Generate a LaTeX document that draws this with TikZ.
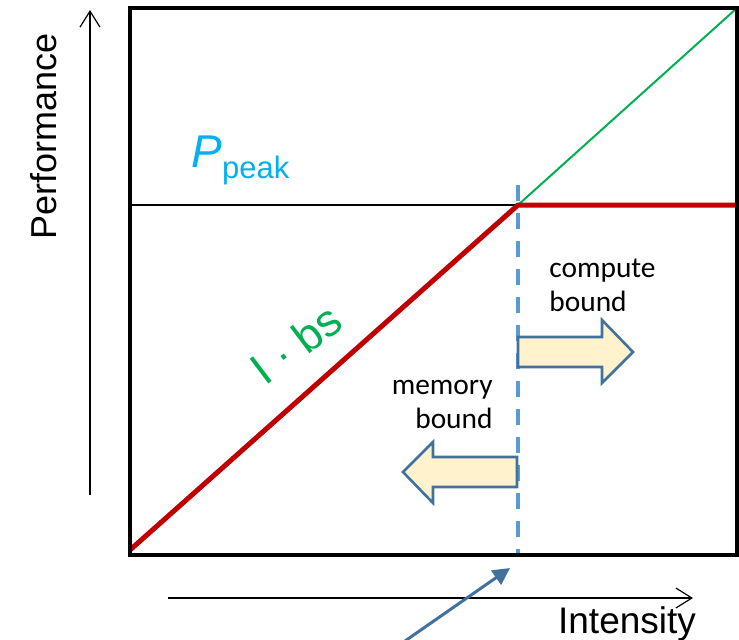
\documentclass[tikz,border=0pt]{standalone}
\usepackage{fontspec}
\setmainfont{Liberation Sans}
\newfontfamily\calibri{Carlito}
\usepackage{tikz}
\usetikzlibrary{arrows.meta}

\definecolor{roofred}{HTML}{C00000}
\definecolor{roofgreen}{HTML}{00B050}
\definecolor{peakcyan}{HTML}{00B0F0}
\definecolor{ridgeblue}{HTML}{5B9BD5}
\definecolor{arrowblue}{HTML}{41719C}
\definecolor{arrowfill}{HTML}{FFF2CC}

\tikzset{
  axisarrow/.style={-{Straight Barb[length=8pt,width=10pt]},line width=0.6pt},
  blockarrow/.style={draw=arrowblue,fill=arrowfill,line width=1.3pt,line join=miter},
  boundlabel/.style={font=\calibri\fontsize{14.7}{17}\selectfont,inner sep=0pt},
}

\begin{document}
\begin{tikzpicture}[x=0.5pt,y=-0.5pt]
	  \useasboundingbox (0,0) rectangle (739,639);
	  % axes
	  \coordinate (yfoot) at (90,495);
	  \coordinate (ytip) at (90,10);
	  \coordinate (xfoot) at (168,598);
	  \coordinate (xtip) at (693,598);
	  \draw[axisarrow] (yfoot) -- (ytip);
	  \draw[axisarrow] (xfoot) -- (xtip);
	  \node[rotate=90,anchor=base,inner sep=0pt,font=\fontsize{18}{20}\selectfont] (perf) at (56,136) {Performance};
	  \node[anchor=base,inner sep=0pt,font=\fontsize{18.5}{20}\selectfont] (intens) at (627,633) {Intensity};
	  % roofline
	  \coordinate (origin) at (130,550);
	  \coordinate (knee) at (518,205);
	  \coordinate (peakleft) at (130,205);
	  \coordinate (peakright) at (737,205);
	  \coordinate (corner) at (737,8);
	  \draw[line width=1pt] (peakleft) -- (knee);
	  \draw[roofgreen,line width=1pt] (knee) -- (corner);
	  \draw[roofred,line width=2.5pt] (origin) -- (knee) -- (peakright);
	  \draw[ridgeblue,line width=1.8pt,dash pattern=on 8pt off 6pt] (518,185) -- (518,555);
	  \draw[line width=2pt] (130,8) rectangle (737,555);
	  \node[anchor=base west,inner sep=0pt,text=peakcyan] (ppeak) at (191,167)
	    {\fontsize{23}{26}\selectfont\itshape P\upshape\raisebox{-5.5pt}{\fontsize{15.5}{18}\selectfont peak}};
	  \node[rotate=37,anchor=base west,inner sep=0pt,text=roofgreen,font=\fontsize{22.5}{26}\selectfont] (ibs) at (265,387) {I · bs};
	  % bound arrows
	  \draw[blockarrow] (518,337) -- (602,337) -- (602,320) -- (633,352) -- (602,383) -- (602,367) -- (518,367) -- cycle;
	  \draw[blockarrow] (517,457) -- (433,457) -- (433,442) -- (403,472) -- (433,503) -- (433,487) -- (517,487) -- cycle;
	  \node[boundlabel,anchor=west,align=left] (compute) at (549,285) {compute\\bound};
	  \node[boundlabel,anchor=east,align=right] (memory) at (493,404) {memory\\bound};
	  % pointer to the ridge point
	  \coordinate (ptail) at (405,641);
	  \coordinate (phead) at (510,568);
	  \draw[arrowblue,line width=1.5pt,-{Triangle[length=8.5pt,width=8.5pt]}] (ptail) -- (phead);
	\end{tikzpicture}
\end{document}
